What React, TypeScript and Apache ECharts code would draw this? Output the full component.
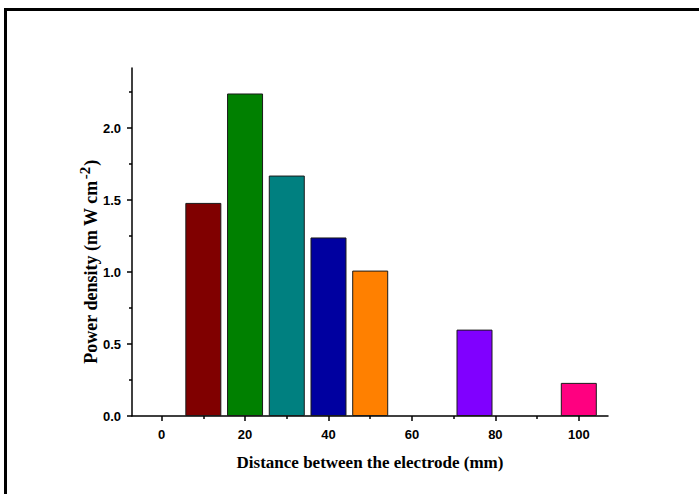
import React, { useEffect, useRef } from "react";
import * as echarts from "echarts";

const distances = [10, 20, 30, 40, 50, 75, 100];
const powerDensity = [1.48, 2.24, 1.67, 1.24, 1.01, 0.6, 0.23];
const barColors = ["#800000", "#008000", "#008080", "#0000A0", "#FF8000", "#8000FF", "#FF0080"];
const xMajorTicks = [0, 20, 40, 60, 80, 100];
const xMinorTicks = [10, 30, 50, 70, 90];
const yMajorTicks = [0, 0.5, 1.0, 1.5, 2.0];
const yMinorTicks = [0.25, 0.75, 1.25, 1.75, 2.25];
const xTitle = "Distance between the electrode (mm)";
const yTitleMain = "Power density (m W cm";
const yTitleSup = "-2";

export default function App() {
  const ref = useRef<HTMLDivElement>(null);
  useEffect(() => {
    if (!ref.current) return;
    const chart = echarts.init(ref.current, null, { renderer: "svg" });
    const labelStyle = {
      fontFamily: "Liberation Sans, Arial, sans-serif",
      fontWeight: "bold" as const,
      fontSize: 13,
      color: "#000",
    };
    const nameFont = "Liberation Serif, Times New Roman, serif";
    const nameStyle = {
      fontFamily: nameFont,
      fontWeight: "bold" as const,
      fontSize: 17,
      color: "#000",
    };
    const xMin = -7.1;
    const xMax = 107;
    const yMin = 0;
    const yMax = 2.417;
    chart.setOption({
      animation: false,
      backgroundColor: "#fff",
      grid: { left: 132, right: 91, top: 68, bottom: 78 },
      graphic: [
        {
          type: "rect",
          shape: { x: 5.5, y: 9.5, width: 800, height: 600 },
          style: { fill: "none", stroke: "#000", lineWidth: 3 },
          silent: true,
        },
        {
          type: "text",
          x: 91,
          y: 262,
          rotation: Math.PI / 2,
          silent: true,
          style: {
            text: `{n|${yTitleMain}}{sup|${yTitleSup}}{n|)}`,
            align: "center",
            verticalAlign: "middle",
            rich: {
              n: { fontFamily: nameFont, fontWeight: "bold", fontSize: 18, fill: "#000" },
              sup: { fontFamily: nameFont, fontWeight: "bold", fontSize: 15, fill: "#000", padding: [0, 1, 13, 1] },
            },
          },
        },
      ],
      xAxis: [
        {
          type: "value",
          min: xMin,
          max: xMax,
          position: "bottom",
          name: xTitle,
          nameLocation: "middle",
          nameGap: 38,
          nameTextStyle: nameStyle,
          axisLine: { show: true, onZero: false, lineStyle: { color: "#000", width: 1.5 } },
          axisTick: { show: true, inside: false, length: 5, lineStyle: { color: "#000", width: 1.5 }, customValues: xMajorTicks },
          axisLabel: { ...labelStyle, margin: 12, customValues: xMajorTicks },
          splitLine: { show: false },
        },
        {
          type: "value",
          min: xMin,
          max: xMax,
          position: "bottom",
          axisLine: { show: false, onZero: false },
          axisTick: { show: true, inside: false, length: 3, lineStyle: { color: "#000", width: 1.5 }, customValues: xMinorTicks },
          axisLabel: { show: false },
          splitLine: { show: false },
        },
      ],
      yAxis: [
        {
          type: "value",
          min: yMin,
          max: yMax,
          position: "left",
          axisLine: { show: true, onZero: false, lineStyle: { color: "#000", width: 1.5 } },
          axisTick: { show: true, inside: false, length: 5, lineStyle: { color: "#000", width: 1.5 }, customValues: yMajorTicks },
          axisLabel: {
            ...labelStyle,
            margin: 11,
            customValues: yMajorTicks,
            formatter: (v: number) => v.toFixed(1),
          },
          splitLine: { show: false },
        },
        {
          type: "value",
          min: yMin,
          max: yMax,
          position: "left",
          axisLine: { show: false, onZero: false },
          axisTick: { show: true, inside: false, length: 3, lineStyle: { color: "#000", width: 1.5 }, customValues: yMinorTicks },
          axisLabel: { show: false },
          splitLine: { show: false },
        },
      ],
      series: [
        {
          type: "bar",
          xAxisIndex: 0,
          yAxisIndex: 0,
          barWidth: 36,
          data: distances.map((d, i) => ({
            value: [d, powerDensity[i]],
            itemStyle: { color: barColors[i], borderColor: "#1a1a1a", borderWidth: 1 },
          })),
        },
      ],
    });
    return () => chart.dispose();
  }, []);
  return (
    <div
      ref={ref}
      style={{ position: "fixed", left: 0, top: 0, width: 699, height: 494 }}
    />
  );
}
